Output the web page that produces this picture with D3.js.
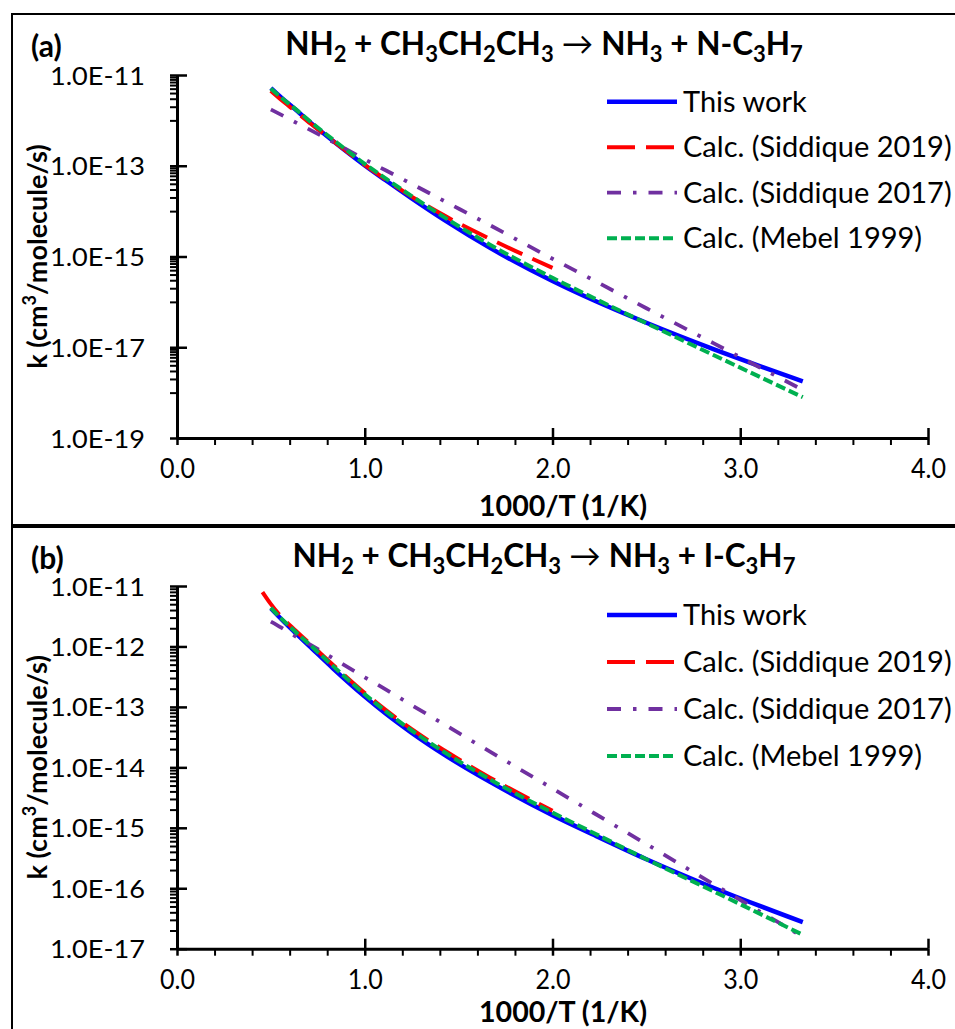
<!DOCTYPE html>
<html>
<head>
<meta charset="utf-8">
<script src="https://cdn.jsdelivr.net/npm/d3@7"></script>
<style>
  body { margin: 0; background: #fff; }
  svg { display: block; font-family: Lato, "Open Sans", sans-serif; }
  .legend-text { font-size: 29px; fill: #000; }
  .title { font-size: 31.5px; font-weight: bold; fill: #000; }
  .panel-tag { font-size: 30px; font-weight: bold; fill: #000; }
  .axis-title { font-weight: bold; fill: #000; }
</style>
</head>
<body>
<svg id="chart" width="955" height="1029"></svg>
<script>
// 1000/T (1/K) grid shared by the computed rate curves
const invT = [0.5, 0.556, 0.625, 0.714, 0.833, 1.0, 1.111, 1.25, 1.429, 1.667, 2.0, 2.222, 2.5, 2.857, 3.333];
// Siddique 2019 only covers 500-2000 K (and 500-2200 K for the I-C3H7 channel)
const invTSid19N = [0.5, 0.556, 0.625, 0.714, 0.833, 1.0, 1.111, 1.25, 1.429, 1.667, 2.0];
const invTSid19I = [0.455, 0.5, 0.556, 0.625, 0.714, 0.833, 1.0, 1.111, 1.25, 1.429, 1.667, 2.0];

// (a) NH2 + CH3CH2CH3 -> NH3 + N-C3H7, k in cm3/molecule/s
const kThisWorkN = [5.13e-12, 3.16e-12, 1.82e-12, 8.71e-13, 3.47e-13, 1.02e-13, 4.79e-14, 1.91e-14, 6.17e-15, 1.55e-15, 2.88e-16, 1.07e-16, 3.47e-17, 9.12e-18, 1.78e-18];
const kSid19N    = [4.47e-12, 2.82e-12, 1.66e-12, 8.32e-13, 3.47e-13, 1.05e-13, 5.01e-14, 2.09e-14, 7.76e-15, 2.45e-15, 5.62e-16];
const kSid17N    = [1.74e-12, 1.32e-12, 9.33e-13, 6.03e-13, 3.31e-13, 1.38e-13, 7.94e-14, 3.98e-14, 1.62e-14, 4.90e-15, 8.91e-16, 2.95e-16, 7.24e-17, 1.23e-17, 1.15e-18];
const kMebelN    = [5.01e-12, 3.16e-12, 1.86e-12, 9.12e-13, 3.72e-13, 1.10e-13, 5.25e-14, 2.14e-14, 7.08e-15, 1.82e-15, 3.39e-16, 1.20e-16, 3.39e-17, 6.76e-18, 7.94e-19];

// (b) NH2 + CH3CH2CH3 -> NH3 + I-C3H7
const kThisWorkI = [4.27e-12, 2.82e-12, 1.74e-12, 9.55e-13, 4.27e-13, 1.48e-13, 7.76e-14, 3.72e-14, 1.58e-14, 5.75e-15, 1.62e-15, 7.59e-16, 3.02e-16, 1.02e-16, 2.75e-17];
const kSid19I    = [7.94e-12, 5.01e-12, 3.09e-12, 1.91e-12, 1.07e-12, 4.90e-13, 1.70e-13, 8.91e-14, 4.27e-14, 1.86e-14, 6.76e-15, 1.91e-15];
const kSid17I    = [2.57e-12, 2.04e-12, 1.51e-12, 1.05e-12, 6.31e-13, 3.09e-13, 1.95e-13, 1.07e-13, 5.01e-14, 1.82e-14, 4.47e-15, 1.74e-15, 5.37e-16, 1.17e-16, 1.58e-17];
const kMebelI    = [4.37e-12, 2.88e-12, 1.82e-12, 1.02e-12, 4.68e-13, 1.62e-13, 8.51e-14, 4.07e-14, 1.74e-14, 6.31e-15, 1.78e-15, 8.13e-16, 3.02e-16, 8.91e-17, 1.70e-17];

// axis ticks
const xMajorTicks = [0, 1, 2, 3, 4];
const xTickLabels = ["0.0", "1.0", "2.0", "3.0", "4.0"];
const yMajorTicksN = [1e-19, 1e-17, 1e-15, 1e-13, 1e-11];
const yMajorTicksI = [1e-17, 1e-16, 1e-15, 1e-14, 1e-13, 1e-12, 1e-11];

const seriesNames = ["This work", "Calc. (Siddique 2019)", "Calc. (Siddique 2017)", "Calc. (Mebel 1999)"];
const seriesStyles = [
  { color: "#0000FF", width: 4.5, dash: null },
  { color: "#FF0000", width: 4,   dash: "28,11" },
  { color: "#7030A0", width: 3.8, dash: "14,12,3.5,12" },
  { color: "#00B050", width: 4,   dash: "10,4" }
];

const svg = d3.select("#chart");

function yFormat(d) {
  return "1.0E" + Math.round(Math.log10(d));
}

// squeeze a narrow-set label into a fixed advance width
function fitWidth(sel, w) {
  sel.attr("textLength", w).attr("lengthAdjust", "spacingAndGlyphs");
}

function drawPanel(p) {
  const g = svg.append("g");

  // panel frame
  g.append("rect")
    .attr("x", p.frame[0]).attr("y", p.frame[1])
    .attr("width", p.frame[2]).attr("height", p.frame[3])
    .attr("fill", "none").attr("stroke", "#000").attr("stroke-width", 2);

  const x = d3.scaleLinear().domain([0, 4]).range([177, 928]);
  const y = d3.scaleLog().domain(p.yDomain).range([p.yBottom, p.yTop]);

  // minor tick positions
  const yMinor = [];
  const eLo = Math.round(Math.log10(p.yDomain[0]));
  const eHi = Math.round(Math.log10(p.yDomain[1]));
  if (p.twoDecadeMajors) {
    for (let e = eLo; e < eHi; e += 2) {
      for (let k = 1; k <= 9; k++) yMinor.push(k * Math.pow(10, e + 1));
    }
  } else {
    for (let e = eLo; e < eHi; e++) {
      for (let k = 2; k <= 9; k++) yMinor.push(k * Math.pow(10, e));
    }
  }
  const xMinor = d3.range(0, 4.001, 0.2).filter(v => Math.abs(v - Math.round(v)) > 1e-6);

  // y axis: minor ticks (outside), major ticks crossing the axis, labels
  const yMinorAxis = g.append("g").attr("transform", "translate(177,0)")
    .call(d3.axisLeft(y).tickValues(yMinor).tickSize(7).tickSizeOuter(0).tickFormat(""));
  yMinorAxis.select(".domain").remove();
  yMinorAxis.selectAll("line").attr("stroke-width", 2);

  const yMajIn = g.append("g").attr("transform", "translate(177,0)")
    .call(d3.axisRight(y).tickValues(p.yMajor).tickSize(10).tickSizeOuter(0).tickFormat(""));
  yMajIn.select(".domain").remove();
  yMajIn.selectAll("line").attr("stroke-width", 2.5);

  const yAxis = g.append("g").attr("transform", "translate(177,0)")
    .call(d3.axisLeft(y).tickValues(p.yMajor).tickSize(7).tickSizeOuter(0).tickPadding(25).tickFormat(yFormat));
  yAxis.attr("font-size", 25).attr("font-family", null);
  yAxis.select(".domain").attr("stroke-width", 3);
  yAxis.selectAll("line").attr("stroke-width", 2.5);
  yAxis.selectAll("text").attr("fill", "#000").attr("dy", "0.36em").call(fitWidth, 95);

  // x axis
  const xMinorAxis = g.append("g").attr("transform", `translate(0,${p.yBottom})`)
    .call(d3.axisBottom(x).tickValues(xMinor).tickSize(7).tickSizeOuter(0).tickFormat(""));
  xMinorAxis.select(".domain").remove();
  xMinorAxis.selectAll("line").attr("stroke-width", 2);

  const xMajIn = g.append("g").attr("transform", `translate(0,${p.yBottom})`)
    .call(d3.axisTop(x).tickValues(xMajorTicks).tickSize(10).tickSizeOuter(0).tickFormat(""));
  xMajIn.select(".domain").remove();
  xMajIn.selectAll("line").attr("stroke-width", 2.5);

  const xAxis = g.append("g").attr("transform", `translate(0,${p.yBottom})`)
    .call(d3.axisBottom(x).tickValues(xMajorTicks).tickSize(7).tickSizeOuter(0)
      .tickFormat((d, i) => xTickLabels[i]));
  xAxis.attr("font-size", 27).attr("font-family", null);
  xAxis.select(".domain").attr("stroke-width", 3);
  xAxis.selectAll("line").attr("stroke-width", 2.5);
  xAxis.selectAll("text").attr("fill", "#000").attr("dy", null).attr("y", 40).call(fitWidth, 35);

  // axis titles
  g.append("text").attr("class", "axis-title")
    .attr("x", 563).attr("y", p.xTitleY)
    .attr("text-anchor", "middle").attr("font-size", 28)
    .text("1000/T (1/K)")
    .call(fitWidth, 168);

  const yt = g.append("text").attr("class", "axis-title")
    .attr("text-anchor", "middle").attr("font-size", 27)
    .attr("transform", `translate(47,${(p.yTop + p.yBottom) / 2}) rotate(-90)`);
  yt.append("tspan").text("k (cm");
  yt.append("tspan").attr("baseline-shift", "super").attr("font-size", 18).text("3");
  yt.append("tspan").text("/molecule/s)");

  // panel tag and reaction title
  g.append("text").attr("class", "panel-tag")
    .attr("x", 31).attr("y", p.titleY + 2).text(p.tag);

  const title = g.append("text").attr("class", "title")
    .attr("x", 544).attr("y", p.titleY).attr("text-anchor", "middle");
  p.titleParts.forEach(part => {
    const t = title.append("tspan").text(part[0]);
    if (part[1] === "sub") t.attr("baseline-shift", "-30%").attr("font-size", 22);
    if (part[1] === "arrow") t.attr("font-weight", "normal");
  });

  // curves
  const line = d3.line()
    .x(d => x(d[0]))
    .y(d => y(d[1]))
    .curve(d3.curveMonotoneX);

  p.series.forEach((s, i) => {
    const st = seriesStyles[i];
    g.append("path")
      .datum(d3.zip(s.x, s.k))
      .attr("d", line)
      .attr("fill", "none")
      .attr("stroke", st.color)
      .attr("stroke-width", st.width)
      .attr("stroke-dasharray", st.dash);
  });

  // legend
  seriesNames.forEach((name, i) => {
    const st = seriesStyles[i];
    const ly = p.legendY + i * p.legendStep;
    g.append("line")
      .attr("x1", 607).attr("x2", 677).attr("y1", ly).attr("y2", ly)
      .attr("stroke", st.color).attr("stroke-width", st.width)
      .attr("stroke-dasharray", st.dash);
    g.append("text").attr("class", "legend-text")
      .attr("x", 683).attr("y", ly).attr("dy", "0.35em").text(name);
  });
}

drawPanel({
  tag: "(a)",
  frame: [12, 14, 960, 511],
  yDomain: [1e-19, 1e-11], yTop: 75, yBottom: 438,
  yMajor: yMajorTicksN, twoDecadeMajors: true,
  titleY: 55, xTitleY: 516,
  titleParts: [["NH"], ["2", "sub"], [" + CH"], ["3", "sub"], ["CH"], ["2", "sub"], ["CH"], ["3", "sub"],
               [" \u2192 ", "arrow"], ["NH"], ["3", "sub"], [" + N-C"], ["3", "sub"], ["H"], ["7", "sub"]],
  legendY: 101.7, legendStep: 45.5,
  series: [
    { x: invT, k: kThisWorkN },
    { x: invTSid19N, k: kSid19N },
    { x: invT, k: kSid17N },
    { x: invT, k: kMebelN }
  ]
});

drawPanel({
  tag: "(b)",
  frame: [12, 527, 960, 520],
  yDomain: [1e-17, 1e-11], yTop: 586, yBottom: 948.7,
  yMajor: yMajorTicksI, twoDecadeMajors: false,
  titleY: 567, xTitleY: 1022,
  titleParts: [["NH"], ["2", "sub"], [" + CH"], ["3", "sub"], ["CH"], ["2", "sub"], ["CH"], ["3", "sub"],
               [" \u2192 ", "arrow"], ["NH"], ["3", "sub"], [" + I-C"], ["3", "sub"], ["H"], ["7", "sub"]],
  legendY: 615, legendStep: 47,
  series: [
    { x: invT, k: kThisWorkI },
    { x: invTSid19I, k: kSid19I },
    { x: invT, k: kSid17I },
    { x: invT, k: kMebelI }
  ]
});
</script>
</body>
</html>
